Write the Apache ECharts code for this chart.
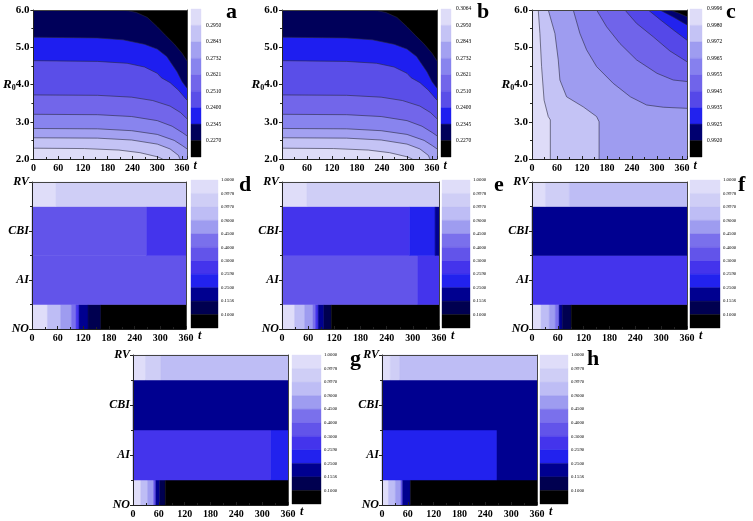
<!DOCTYPE html>
<html><head><meta charset="utf-8">
<script src="https://cdn.jsdelivr.net/npm/echarts@6/dist/echarts.min.js"></script>
<style>html,body{margin:0;padding:0;background:#fff}#c{width:753px;height:521px}</style>
</head><body><div id="c"></div>
<script>
// ---------------- data ----------------
const rowCats = ['NO', 'AI', 'CBI', 'RV'];

// contour boundaries (t, R0), panels a/b (from top band to bottom band)
const contourA = [
  [[0,6.0],[207,6.0],[230,5.98],[250,5.93],[276,5.80],[300,5.55],[320,5.32],[340,5.10],[360,4.84],[372,4.63]],
  [[0,5.27],[155,5.25],[217,5.2],[269,5.08],[300,4.95],[323,4.75],[348,4.34],[360,4.08],[372,3.9]],
  [[0,4.64],[155,4.62],[227,4.57],[269,4.47],[300,4.3],[310,4.18],[331,4.05],[351,3.85],[372,3.58]],
  [[0,3.72],[155,3.71],[238,3.66],[289,3.57],[331,3.42],[356,3.25],[372,3.08]],
  [[0,3.2],[155,3.19],[238,3.14],[300,3.03],[336,2.88],[362,2.7],[372,2.62]],
  [[0,2.82],[155,2.81],[238,2.76],[300,2.66],[341,2.5],[362,2.35],[372,2.27]],
  [[0,2.57],[155,2.56],[238,2.51],[300,2.40],[331,2.27],[351,2.1],[355,2.0]],
  [[0,2.29],[124,2.28],[207,2.24],[258,2.17],[300,2.06],[313,2.0]]
];
const contourB = [
  [[0,6.0],[207,6.0],[230,5.98],[250,5.93],[276,5.80],[300,5.55],[320,5.32],[340,5.10],[360,4.84],[372,4.63]],
  [[0,5.27],[155,5.25],[217,5.2],[269,5.08],[300,4.95],[323,4.75],[348,4.34],[360,4.08],[372,3.9]],
  [[0,4.64],[155,4.62],[227,4.57],[269,4.47],[300,4.3],[310,4.18],[331,4.05],[351,3.85],[372,3.58]],
  [[0,3.72],[155,3.71],[238,3.66],[289,3.57],[331,3.42],[356,3.25],[372,3.08]],
  [[0,3.2],[155,3.19],[238,3.14],[300,3.03],[336,2.88],[362,2.7],[372,2.62]],
  [[0,2.82],[155,2.81],[238,2.76],[300,2.66],[341,2.5],[362,2.35],[372,2.27]],
  [[0,2.57],[155,2.56],[238,2.51],[300,2.40],[331,2.27],[351,2.1],[355,2.0]],
  [[0,2.29],[124,2.28],[207,2.24],[258,2.17],[300,2.06],[313,2.0]]
];
// panel c (from lightest-left band towards dark top-right corner)
const contourC = [
  [[15,6.0],[19,5.37],[23,4.48],[29,3.58],[39,3.14],[44,3.05],[44,2.0]],
  [[39,6.0],[55,5.37],[63,4.66],[67,4.12],[83,3.67],[123,3.4],[155,3.14],[161,3.0],[161,2.0]],
  [[99,6.0],[115,5.37],[131,4.93],[155,4.48],[195,4.03],[236,3.67],[275,3.45],[315,3.39],[372,3.36]],
  [[155,6.0],[179,5.55],[211,5.1],[251,4.66],[300,4.3],[339,4.12],[372,4.08]],
  [[223,6.0],[251,5.64],[291,5.28],[331,4.9],[372,4.61]],
  [[279,6.0],[310,5.72],[341,5.45],[372,5.19]],
  [[307,6.0],[341,5.8],[372,5.6]],
  [[331,6.0],[351,5.92],[372,5.82]]
];

// colour-bar tick labels (top to bottom)
const cbLabelsA = ['0.2950','0.2843','0.2732','0.2621','0.2510','0.2400','0.2345','0.2270'];
const cbLabelsB = ['0.3064','0.2950','0.2843','0.2732','0.2621','0.2510','0.2400','0.2345','0.2270'];
const cbLabelsC = ['0.9996','0.9980','0.9972','0.9965','0.9955','0.9945','0.9935','0.9925','0.9920'];
const cbLabelsH = ['1.0000','0.9978','0.9970','0.9000','0.4500','0.4000','0.3000','0.2590','0.2500','0.1556','0.1000'];

// heat-map cells per row: [tStart, tEnd, level]  (level 0 = top of colour bar)
const cellsD = {
  RV:  [[0,56,0],[56,360,1]],
  CBI: [[0,268,5],[268,360,6]],
  AI:  [[0,360,5]],
  NO:  [[0,36,0],[36,67,2],[67,92,3],[92,103,4],[103,110,6],[110,131,8],[131,161,9],[161,360,10]]
};
const cellsE = {
  RV:  [[0,57,0],[57,360,1]],
  CBI: [[0,293,6],[293,351,7],[351,360,8]],
  AI:  [[0,311,5],[311,360,6]],
  NO:  [[0,29,0],[29,52,2],[52,71,3],[71,77,4],[77,83,6],[83,96,8],[96,113,9],[113,360,10]]
};
const cellsF = {
  RV:  [[0,31,0],[31,87,1],[87,360,2]],
  CBI: [[0,360,8]],
  AI:  [[0,360,6]],
  NO:  [[0,21,0],[21,40,2],[40,54,3],[54,63,4],[63,70,8],[70,91,9],[91,360,10]]
};
const cellsG = {
  RV:  [[0,29,0],[29,65,1],[65,360,2]],
  CBI: [[0,360,8]],
  AI:  [[0,320,6],[320,360,7]],
  NO:  [[0,18,0],[18,34,2],[34,48,3],[48,53,5],[53,62,8],[62,75,9],[75,360,10]]
};
const cellsH = {
  RV:  [[0,19,0],[19,41,1],[41,360,2]],
  CBI: [[0,360,8]],
  AI:  [[0,267,7],[267,360,8]],
  NO:  [[0,15,0],[15,31,2],[31,44,3],[44,48,5],[48,66,8],[66,360,10]]
};

// ---------------- styles ----------------
const palAB = ['#dedcf8','#c4c3f5','#a3a1f1','#8884ee','#7266ea','#5a4ee8','#1e1ef0','#00005a','#000000'];
const palC  = ['#dedcf8','#c4c3f5','#9e9cf0','#8680ee','#7064ea','#5548e8','#2222ee','#000070','#000000'];
const palH  = ['#dfddf9','#cfcef6','#bebdf5','#9e9cf0','#7a70ec','#6254ea','#4434ec','#2222ee','#000090','#000050','#000000'];

const SERIF = '"Liberation Serif", "Times New Roman", serif';
const AX = {color:'#222', width:1};

const panels = [
  {letter:'a', kind:'contourDown', curves:contourA, pal:palAB, labels:cbLabelsA, tMax:372,
   grid:{left:32,top:10,width:155,height:149}, cb:{left:191,top:9,width:10,height:148}, cbFont:5.5, cbMargin:5,
   let:[226,1], nameGap:3},
  {letter:'b', kind:'contourDown', curves:contourB, pal:palAB, labels:cbLabelsB, tMax:372,
   grid:{left:282,top:10,width:155,height:149}, cb:{left:441,top:9,width:10,height:148}, cbFont:5.5, cbMargin:5,
   let:[477,1], nameGap:3},
  {letter:'c', kind:'contourUp', curves:contourC, pal:palC, labels:cbLabelsC, tMax:372,
   grid:{left:532,top:10,width:155,height:149}, cb:{left:690,top:9,width:12,height:148}, cbFont:5.5, cbMargin:5,
   let:[726,1], nameGap:3},
  {letter:'d', kind:'heat', cells:cellsD, pal:palH, labels:cbLabelsH, tMax:360,
   grid:{left:32,top:182,width:154,height:147}, cb:{left:191,top:180,width:27,height:148}, cbFont:4.8, cbMargin:3,
   let:[239,174], nameGap:12},
  {letter:'e', kind:'heat', cells:cellsE, pal:palH, labels:cbLabelsH, tMax:360,
   grid:{left:282,top:182,width:157,height:147}, cb:{left:442,top:180,width:28,height:148}, cbFont:4.8, cbMargin:3,
   let:[494,174], nameGap:12},
  {letter:'f', kind:'heat', cells:cellsF, pal:palH, labels:cbLabelsH, tMax:360,
   grid:{left:532,top:182,width:155,height:147}, cb:{left:690,top:180,width:30,height:148}, cbFont:4.8, cbMargin:3,
   let:[738,174], nameGap:12},
  {letter:'g', kind:'heat', cells:cellsG, pal:palH, labels:cbLabelsH, tMax:360,
   grid:{left:133,top:355,width:155,height:150}, cb:{left:292,top:355,width:29,height:149}, cbFont:4.8, cbMargin:3,
   let:[350,348], nameGap:12},
  {letter:'h', kind:'heat', cells:cellsH, pal:palH, labels:cbLabelsH, tMax:360,
   grid:{left:382,top:355,width:155,height:150}, cb:{left:540,top:355,width:28,height:149}, cbFont:4.8, cbMargin:3,
   let:[587,348], nameGap:12}
];

const grids = [], xAxes = [], yAxes = [], series = [], graphics = [];

panels.forEach(p => {
  const isHeat = p.kind === 'heat';
  const N = p.pal.length;
  const gi = grids.length;
  let bg = '#fff';
  if (p.kind === 'contourDown') bg = p.pal[N - 1];
  if (p.kind === 'contourUp') bg = p.pal[0];
  grids.push(Object.assign({show:true, backgroundColor:bg, borderWidth:0}, p.grid));
  const xi = xAxes.length;
  xAxes.push({type:'value', gridIndex:gi, min:0, max:p.tMax, interval:60, z:10,
    axisLine:{show:true, onZero:false, lineStyle:AX},
    axisTick:{show:true, inside:true, length:3, lineStyle:AX},
    minorTick:{show:true, splitNumber:2, length:2, lineStyle:AX},
    splitLine:{show:false}, minorSplitLine:{show:false},
    axisLabel:{fontFamily:SERIF, fontWeight:'bold', fontSize:10, color:'#000', margin:4, showMaxLabel: p.tMax === 360},
    name:'t', nameLocation:'end', nameGap:p.nameGap,
    nameTextStyle:{fontFamily:SERIF, fontStyle:'italic', fontWeight:'bold', fontSize:12, color:'#000',
      verticalAlign:'top', padding:[1,0,0,0]}});
  xAxes.push({type:'value', gridIndex:gi, position:'top', min:0, max:p.tMax, z:10,
    axisLine:{show:true, onZero:false, lineStyle:{color:'#444', width:1}},
    axisTick:{show:false}, axisLabel:{show:false}, splitLine:{show:false}});
  const yi = yAxes.length;
  if (isHeat) {
    yAxes.push({type:'value', gridIndex:gi, min:0, max:3, interval:1, z:10,
      axisLine:{show:true, onZero:false, lineStyle:AX},
      axisTick:{show:true, length:3, lineStyle:AX},
      minorTick:{show:true, splitNumber:2, length:2, lineStyle:AX},
      splitLine:{show:false},
      axisLabel:{fontFamily:SERIF, fontStyle:'italic', fontWeight:'bold', fontSize:12, color:'#000', margin:3,
        formatter: v => rowCats[v] || ''}});
  } else {
    yAxes.push({type:'value', gridIndex:gi, min:2, max:6, interval:1, z:10,
      axisLine:{show:true, onZero:false, lineStyle:AX},
      axisTick:{show:true, length:3, lineStyle:AX},
      minorTick:{show:true, splitNumber:2, length:2, lineStyle:AX},
      splitLine:{show:false},
      axisLabel:{fontFamily:SERIF, fontWeight:'bold', fontSize:11, color:'#000', margin:4,
        formatter: v => (v === 4 ? '{r|R}{s|0}' : '') + v.toFixed(1),
        rich:{
          r:{fontFamily:SERIF, fontStyle:'italic', fontWeight:'bold', fontSize:13, color:'#000'},
          s:{fontFamily:SERIF, fontWeight:'bold', fontSize:8, color:'#000', padding:[6,0,0,0]}
        }}});
  }
  yAxes.push({type:'value', gridIndex:gi, position:'right', min:isHeat?0:2, max:isHeat?3:6, z:10,
    axisLine:{show:true, onZero:false, lineStyle:{color:'#444', width:1}},
    axisTick:{show:false}, axisLabel:{show:false}, splitLine:{show:false}});

  if (isHeat) {
    const data = [];
    rowCats.forEach((rc, r) => (p.cells[rc] || []).forEach(c => data.push([r, c[0], c[1], c[2]])));
    const pal = p.pal;
    series.push({type:'custom', xAxisIndex:xi, yAxisIndex:yi, silent:true, z:2,
      encode:{x:[1,2], y:0},
      data: data,
      renderItem: (params, api) => {
        const r = api.value(0), t0 = api.value(1), t1 = api.value(2), lv = api.value(3);
        const a = api.coord([t0, r + 0.5]);
        const b = api.coord([t1, r - 0.5]);
        const rect = echarts.graphic.clipRectByRect(
          {x:a[0], y:a[1], width:b[0]-a[0], height:b[1]-a[1]},
          {x:params.coordSys.x, y:params.coordSys.y, width:params.coordSys.width, height:params.coordSys.height});
        if (!rect) return;
        return {type:'rect', shape:rect, style:{fill:pal[lv], stroke:pal[lv], lineWidth:0.5}};
      }});
  } else {
    const curves = p.curves, pal = p.pal, tMax = p.tMax;
    const down = p.kind === 'contourDown';
    const closure = down ? [[tMax,2],[0,2]] : [[tMax,2],[tMax,6]];
    series.push({type:'custom', xAxisIndex:xi, yAxisIndex:yi, silent:true, z:2, clip:true,
      data: curves.map((c, k) => [k]),
      encode:{x:0},
      renderItem: (params, api) => {
        const k = params.dataIndex;
        const curve = curves[k];
        const fillIdx = down ? (N - 2 - k) : (k + 1);
        const poly = curve.concat(closure).map(pt => api.coord(pt));
        const line = curve.map(pt => api.coord(pt));
        return {type:'group', children:[
          {type:'polygon', shape:{points:poly}, style:{fill:pal[fillIdx], stroke:null}},
          {type:'polyline', shape:{points:line}, style:{stroke:'#2a2a40', lineWidth:0.6, fill:null}}
        ]};
      }});
  }

  // ----- colour bar
  const cgi = grids.length;
  grids.push(Object.assign({}, p.cb));
  const cxi = xAxes.length;
  xAxes.push({type:'value', gridIndex:cgi, min:0, max:1, show:false});
  const cyi = yAxes.length;
  const L = p.labels, m = L.length;
  yAxes.push({type:'value', gridIndex:cgi, min:0, max:N, interval:1, position:'right',
    axisLine:{show:false}, axisTick:{show:false}, splitLine:{show:false},
    axisLabel:{fontFamily:SERIF, fontSize:p.cbFont, color:'#000', margin:p.cbMargin,
      formatter: v => L[m - v] || ''}});
  const pal = p.pal;
  series.push({type:'custom', xAxisIndex:cxi, yAxisIndex:cyi, silent:true,
    data: pal.map((c, j) => [0, N - j]),
    renderItem: (params, api) => {
      const j = params.dataIndex;
      const a = api.coord([0, N - j]);
      const b = api.coord([1, N - j - 1]);
      return {type:'rect', shape:{x:a[0], y:a[1], width:b[0]-a[0], height:b[1]-a[1]},
        style:{fill:pal[j], stroke:pal[j], lineWidth:0.4}};
    }});

  graphics.push({type:'text', left:p.let[0], top:p.let[1], z:20,
    style:{text:p.letter, font:'bold 22px ' + SERIF, fill:'#000'}});
});

const chart = echarts.init(document.getElementById('c'), null, {width:753, height:521});
chart.setOption({
  animation:false,
  backgroundColor:'#fff',
  grid:grids, xAxis:xAxes, yAxis:yAxes, series:series, graphic:graphics
});
</script>
</body></html>
